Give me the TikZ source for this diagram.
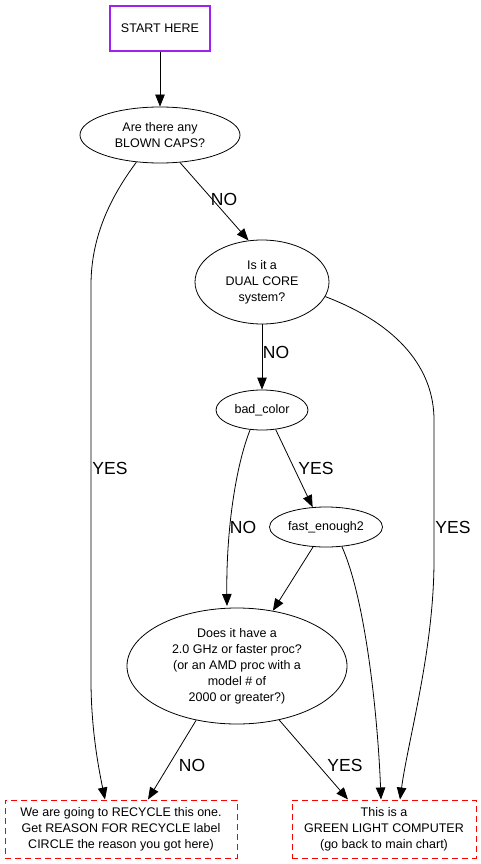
\documentclass[tikz,border=0pt]{standalone}
\usepackage{fontspec}
\setmainfont{Liberation Sans}
\usetikzlibrary{shapes.geometric,arrows.meta,calc}
\definecolor{gvpurple}{HTML}{A020F0}
\tikzset{
  every node/.style={font=\fontsize{12.5}{16}\selectfont, align=center, inner sep=0pt},
  ell/.style={ellipse, draw, line width=0.8pt},
  startbox/.style={draw=gvpurple, line width=2pt, minimum width=100pt, minimum height=45pt},
  endbox/.style={draw=red, dashed, dash pattern=on 6pt off 4pt, line width=1pt, minimum height=58pt},
  arr/.style={line width=0.8pt, -{Triangle[length=12pt,width=9.5pt]}},
  lbl/.style={font=\fontsize{17.5}{20}\selectfont},
}
\begin{document}
\begin{tikzpicture}[x=1pt,y=-1pt]
\useasboundingbox (0,0) rectangle (481,864);
\node[startbox] (start) at (160,28.5) {START HERE};
\node[ell, minimum width=160pt, minimum height=56pt] (caps) at (160,135) {Are there any\\BLOWN CAPS?};
\node[ell, minimum width=134pt, minimum height=84pt] (dual) at (262,282) {Is it a\\DUAL CORE\\system?};
\node[ell, minimum width=92pt, minimum height=40pt] (bad) at (262,410) {bad\_color};
\node[ell, minimum width=113pt, minimum height=40pt] (fast) at (326,527) {fast\_enough2};
\node[ell, minimum width=220pt, minimum height=116pt] (does) at (237,666) {Does it have a\\2.0 GHz or faster proc?\\(or an AMD proc with a\\model \# of\\2000 or greater?)};
\node[endbox, minimum width=232pt] (rec) at (121,829) {We are going to RECYCLE this one.\\Get REASON FOR RECYCLE label\\CIRCLE the reason you got here)};
\node[endbox, minimum width=184pt] (green) at (384,829) {This is a\\GREEN LIGHT COMPUTER\\(go back to main chart)};

\draw[arr] (start) -- (caps);
\draw[arr] (caps.-54) -- (dual.108);
\node[lbl] (l1) at (224,199) {NO};
\draw[arr] (caps.229) .. controls (112,195) and (91,235) .. (91,285) -- (91,680) .. controls (91,730) and (99,770) .. ($(rec.north)+(-16,0)$);
\node[lbl] (l2) at (110,468) {YES};
\draw[arr] (dual) -- (bad);
\node[lbl] (l3) at (276,352) {NO};
\draw[arr] (dual.-13) .. controls (400,325) and (434,370) .. (434,420) -- (434,560) .. controls (434,650) and (408,740) .. ($(green.north)+(16,0)$);
\node[lbl] (l4) at (453,527) {YES};
\draw[arr] (bad.-55) -- (fast.124);
\node[lbl] (l5) at (316,468) {YES};
\draw[arr] (bad.239) .. controls (236,465) and (226,530) .. (227,606);
\node[lbl] (l6) at (243,527) {NO};
\draw[arr] (fast.237) -- (does.57);
\draw[arr] (fast.-51) .. controls (366,600) and (378,720) .. ($(green.north)+(-3,0)$);
\draw[arr] (does.233) -- ($(rec.north)+(27,0)$);
\node[lbl] (l7) at (192,765) {NO};
\draw[arr] (does.-52) -- ($(green.north)+(-36,0)$);
\node[lbl] (l8) at (345,765) {YES};
\end{tikzpicture}
\end{document}
